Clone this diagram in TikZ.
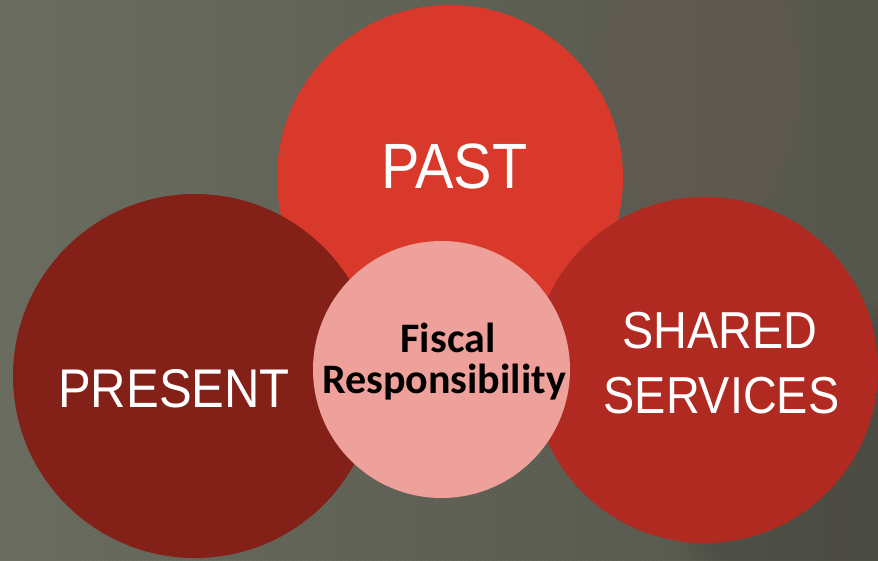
\documentclass[tikz,border=0pt]{standalone}
\usepackage{fontspec}
\setmainfont{Liberation Sans}
\newfontfamily\labelfont[FakeStretch=0.9]{Liberation Sans}
\newfontfamily\corefont{Carlito}
\usetikzlibrary{fadings}
\definecolor{pastred}{HTML}{D9392B}
\definecolor{presentred}{HTML}{832018}
\definecolor{sharedred}{HTML}{B02A21}
\definecolor{corepink}{HTML}{EDA19A}
\definecolor{bgleft}{HTML}{6E7063}
\definecolor{bgright}{HTML}{595A4F}
\definecolor{bgbrown}{HTML}{6A5C53}

\begin{document}
\begin{tikzpicture}[x=1pt,y=-1pt]
    \tikzstyle{bubble}=[circle,draw=none,inner sep=0pt]
    \tikzstyle{stripe}=[black,opacity=0.07,line width=1.4pt]
    \tikzstyle{big}=[text=white,anchor=base,inner sep=0pt,font=\labelfont\fontsize{64}{64}\selectfont]
    \tikzstyle{mid}=[big,font=\labelfont\fontsize{52}{52}\selectfont]
    \tikzstyle{coretext}=[anchor=base,inner sep=0pt,font=\corefont\bfseries\fontsize{42}{42}\selectfont]
    \useasboundingbox (0,0) rectangle (878,560);
    \clip (0,0) rectangle (878,560);

    % blurred background
    \shade[left color=bgleft,right color=bgright] (0,0) rectangle (878,560);
    \fill[bgbrown,opacity=0.55,path fading=circle with fuzzy edge 20 percent] (700,80) ellipse (110 and 170);
    \fill[black,opacity=0.12,path fading=circle with fuzzy edge 20 percent] (860,480) ellipse (200 and 180);
    \foreach \i in {0,4,...,1440}
        \draw[stripe] (\i-560,560) -- (\i,0);

    % circles
    \node[bubble,fill=pastred,minimum size=346pt] (past) at (450,178) {};
    \node[bubble,fill=presentred,minimum size=364pt] (present) at (195,376) {};
    \node[bubble,fill=sharedred,minimum size=346pt] (shared) at (705,370) {};
    \node[bubble,fill=corepink,minimum size=257pt] (core) at (441.5,369.5) {};

    % labels
    \node[big] (pastlabel) at (454.5,188) {PAST};
    \node[mid,font=\labelfont\fontsize{54.5}{54.5}\selectfont] (presentlabel) at (174,407) {PRESENT};
    \node[mid] (sharedlabel) at (720,348) {SHARED};
    \node[mid] (serviceslabel) at (721.5,413) {SERVICES};
    \node[coretext] (fiscal) at (448,352) {Fiscal};
    \node[coretext] (responsibility) at (444,393) {Responsibility};
\end{tikzpicture}
\end{document}
